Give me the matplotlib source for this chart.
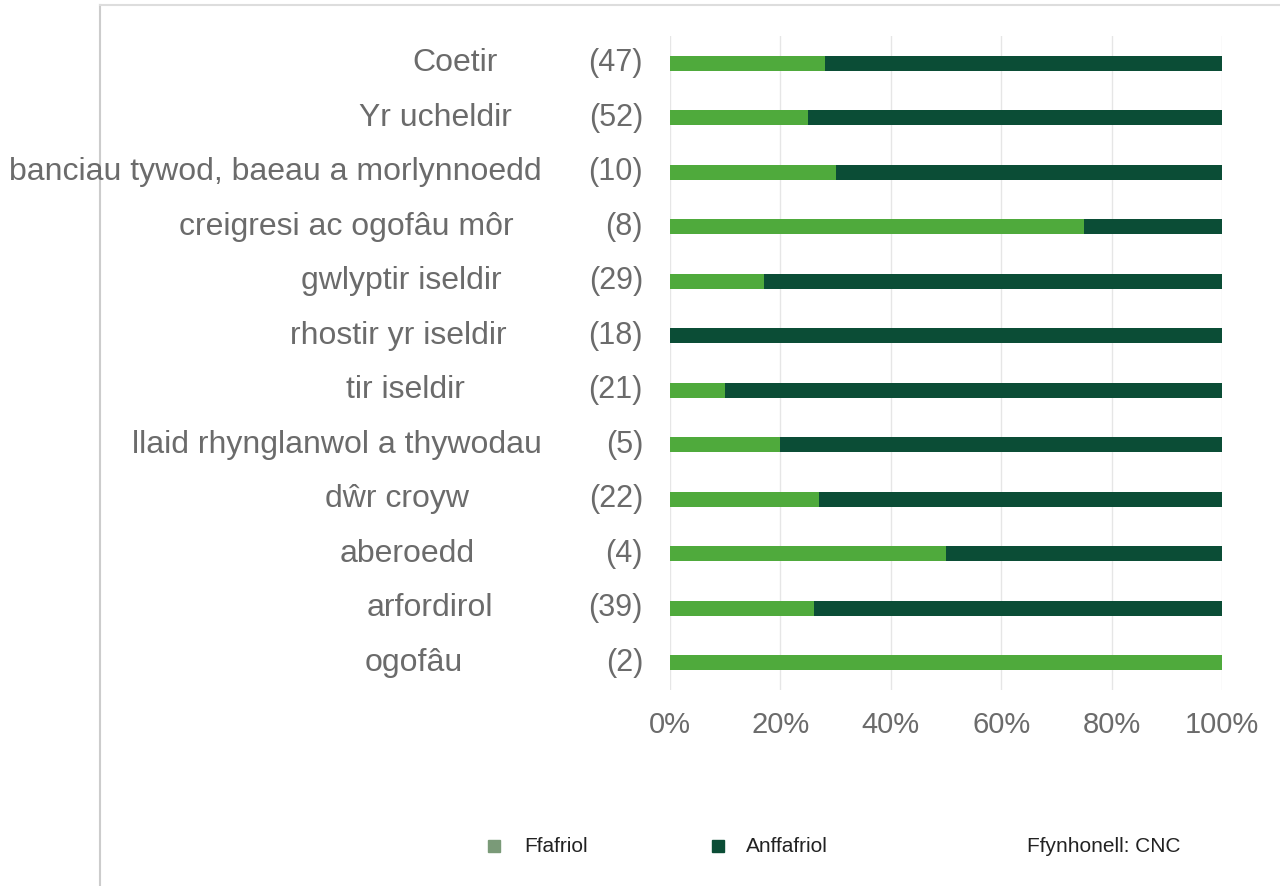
import matplotlib.pyplot as plt

plt.rcParams["font.family"] = ["Liberation Sans", "DejaVu Sans"]

categories = ["Coetir", "Yr ucheldir", "banciau tywod, baeau a morlynnoedd",
              "creigresi ac ogofâu môr", "gwlyptir iseldir", "rhostir yr iseldir",
              "tir iseldir", "llaid rhynglanwol a thywodau", "dŵr croyw",
              "aberoedd", "arfordirol", "ogofâu"]
counts = [47, 52, 10, 8, 29, 18, 21, 5, 22, 4, 39, 2]
ffafriol = [28, 25, 30, 75, 17, 0, 10, 20, 27, 50, 26, 100]
anffafriol = [100 - v for v in ffafriol]
xticks = [0, 20, 40, 60, 80, 100]

# label centres in figure pixels (the source has them unevenly placed)
label_x = [455, 435, 275, 346, 401, 398, 405, 337, 397, 407, 430, 414]

LIGHT = "#4faa3c"
DARK = "#0b4d36"
GREY = "#6b6b6b"

W, H = 1280, 886
fig = plt.figure(figsize=(W / 100, H / 100), dpi=100)
ax = fig.add_axes([670 / W, 1 - 690 / H, (1222 - 670) / W, (690 - 36) / H])

y = list(range(len(categories)))
ax.barh(y, ffafriol, height=0.27, color=LIGHT)
ax.barh(y, anffafriol, left=ffafriol, height=0.27, color=DARK)
ax.set_xlim(0, 100)
ax.set_ylim(len(categories) - 0.5, -0.5)
ax.set_yticks([])
ax.set_xticks(xticks)
ax.set_xticklabels([f"{v}%" for v in xticks], fontsize=21, color=GREY)
ax.tick_params(axis="x", length=0, pad=15)
ax.grid(axis="x", color="#e6e6e6", linewidth=1)
ax.set_axisbelow(True)
for s in ax.spines.values():
    s.set_visible(False)

inv = fig.transFigure.inverted()
for i, (cat, n) in enumerate(zip(categories, counts)):
    ax.annotate(f"({n})", xy=(0, i), xycoords="data", xytext=(-27, 0),
                textcoords="offset pixels", ha="right", va="center",
                fontsize=22, color=GREY)
    fy = inv.transform(ax.transData.transform((0, i)))[1]
    fig.text(label_x[i] / W, fy, cat, ha="center", va="center", fontsize=23, color=GREY)

# frame lines
fig.add_artist(plt.Line2D([100 / W, 100 / W], [0, 1 - 5 / H], color="#cccccc", linewidth=1.5))
fig.add_artist(plt.Line2D([100 / W, 1], [1 - 5 / H, 1 - 5 / H], color="#dddddd", linewidth=1.5))

# legend
fig.patches.append(plt.Rectangle((488 / W, 1 - 852 / H), 12 / W, 12 / H,
                                 color="#7a9a78", transform=fig.transFigure, figure=fig))
fig.text(524 / W, 1 - 846 / H, "Ffafriol", fontsize=15, va="center", color="#222222")
fig.patches.append(plt.Rectangle((712 / W, 1 - 852 / H), 12 / W, 12 / H,
                                 color=DARK, transform=fig.transFigure, figure=fig))
fig.text(746 / W, 1 - 846 / H, "Anffafriol", fontsize=15, va="center", color="#222222")
fig.text(1027 / W, 1 - 846 / H, "Ffynhonell: CNC", fontsize=15, va="center", color="#222222")

fig.savefig("out.png", dpi=100)
